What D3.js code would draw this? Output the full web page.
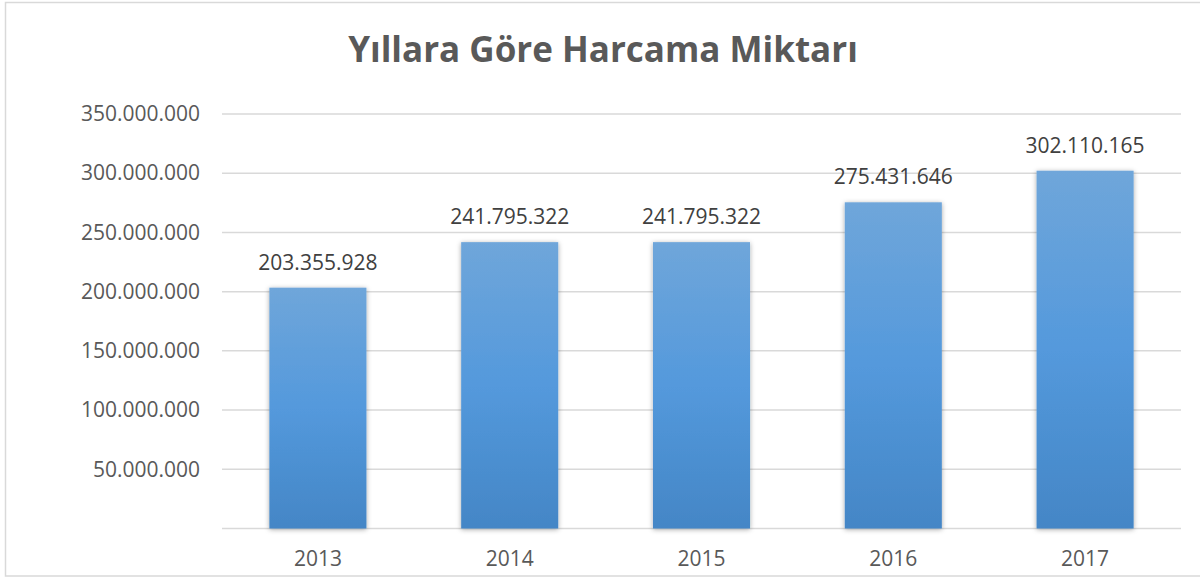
<!DOCTYPE html>
<html>
<head>
<meta charset="utf-8">
<script src="https://cdn.jsdelivr.net/npm/d3@7"></script>
<style>
	body { margin: 0; background: #fff; }
	svg { display: block; }
</style>
</head>
<body>
<div id="chart"></div>
<script>
var title = "Yıllara Göre Harcama Miktarı";
var years = ["2013", "2014", "2015", "2016", "2017"];
var amounts = [203355928, 241795322, 241795322, 275431646, 302110165];
var yTicks = [0, 50000000, 100000000, 150000000, 200000000, 250000000, 300000000, 350000000];

var svgWidth = 1200;
var svgHeight = 577;
var plot = {left: 222, right: 1181, top: 114, bottom: 528.5};

// Turkish style thousands separator
var fmt = d3.formatLocale({decimal: ",", thousands: ".", grouping: [3], currency: ["", ""]}).format(",");

var svg = d3.select("#chart")
	.append("svg")
	.attr("width", svgWidth)
	.attr("height", svgHeight);

var defs = svg.append("defs");
var grad = defs.append("linearGradient")
	.attr("id", "barGrad")
	.attr("x1", 0).attr("y1", 0).attr("x2", 0).attr("y2", 1);
grad.append("stop").attr("offset", "0%").attr("stop-color", "#6fa6da");
grad.append("stop").attr("offset", "50%").attr("stop-color", "#5499dc");
grad.append("stop").attr("offset", "100%").attr("stop-color", "#4486c6");

var shadow = defs.append("filter")
	.attr("id", "shadow")
	.attr("x", "-20%").attr("y", "-5%").attr("width", "140%").attr("height", "110%");
shadow.append("feDropShadow")
	.attr("dx", 0).attr("dy", 1)
	.attr("stdDeviation", 2.5)
	.attr("flood-color", "#000")
	.attr("flood-opacity", 0.35);

// chart frame
svg.append("rect")
	.attr("x", 5.5).attr("y", 2.5)
	.attr("width", 1200).attr("height", 573.5)
	.attr("fill", "#fff")
	.attr("stroke", "#d9d9d9")
	.attr("stroke-width", 1.5);

svg.append("text")
	.attr("x", 603)
	.attr("y", 62)
	.attr("text-anchor", "middle")
	.attr("font-family", "Open Sans")
	.attr("font-weight", "bold")
	.attr("font-size", 35)
	.attr("fill", "#595959")
	.text(title);

var x = d3.scaleBand()
	.domain(years)
	.range([plot.left, plot.right])
	.paddingInner(0.494)
	.paddingOuter(0.247);

var y = d3.scaleLinear()
	.domain([0, 350000000])
	.range([plot.bottom, plot.top]);

// gridlines
svg.append("g")
	.selectAll("line")
	.data(yTicks)
	.enter().append("line")
	.attr("x1", plot.left)
	.attr("x2", plot.right)
	.attr("y1", function(d) { return y(d); })
	.attr("y2", function(d) { return y(d); })
	.attr("stroke", "#d9d9d9")
	.attr("stroke-width", 1.5);

// y axis labels (0 not shown)
var yAxis = d3.axisLeft(y)
	.tickValues(yTicks.filter(function(d) { return d > 0; }))
	.tickFormat(fmt)
	.tickSize(0)
	.tickPadding(22);

svg.append("g")
	.attr("transform", "translate(" + plot.left + ",0)")
	.call(yAxis)
	.call(function(g) { g.select(".domain").remove(); })
	.selectAll("text")
	.attr("font-family", "Open Sans")
	.attr("font-size", 21)
	.attr("fill", "#595959");

var xAxis = d3.axisBottom(x)
	.tickSize(0)
	.tickPadding(23);

svg.append("g")
	.attr("transform", "translate(0," + plot.bottom + ")")
	.call(xAxis)
	.call(function(g) { g.select(".domain").remove(); })
	.selectAll("text")
	.attr("font-family", "Open Sans")
	.attr("font-size", 21)
	.attr("fill", "#595959");

// bars
svg.append("g")
	.selectAll("rect")
	.data(amounts)
	.enter().append("rect")
	.attr("x", function(d, i) { return x(years[i]); })
	.attr("width", x.bandwidth())
	.attr("y", function(d) { return y(d); })
	.attr("height", function(d) { return y(0) - y(d); })
	.attr("fill", "url(#barGrad)")
	.attr("filter", "url(#shadow)");

// value labels
svg.append("g")
	.selectAll("text")
	.data(amounts)
	.enter().append("text")
	.attr("x", function(d, i) { return x(years[i]) + x.bandwidth() / 2; })
	.attr("y", function(d) { return y(d) - 18; })
	.attr("text-anchor", "middle")
	.attr("font-family", "Open Sans")
	.attr("font-size", 21)
	.attr("fill", "#404040")
	.text(function(d) { return fmt(d); });
</script>
</body>
</html>
